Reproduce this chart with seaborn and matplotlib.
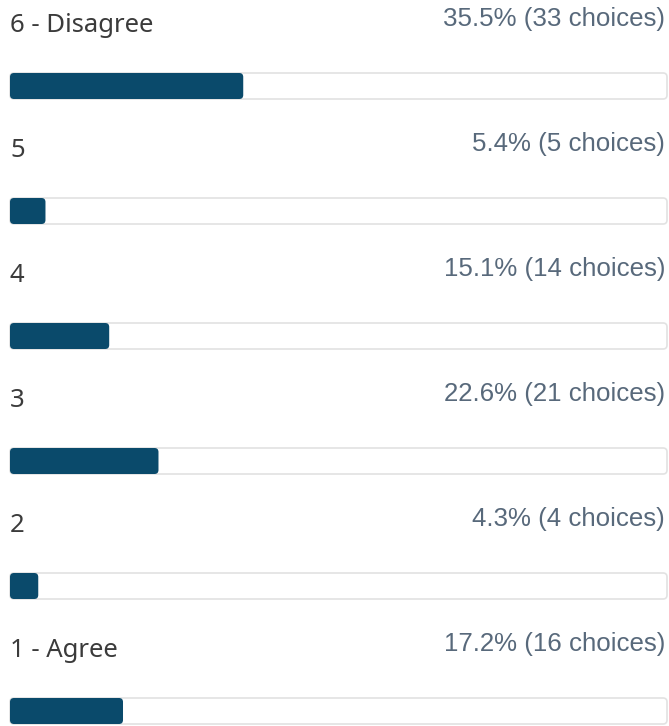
import matplotlib
matplotlib.use("Agg")
import matplotlib.pyplot as plt
import seaborn as sns
import pandas as pd
from matplotlib.patches import FancyBboxPatch

categories = ["6 - Disagree", "5", "4", "3", "2", "1 - Agree"]
percents = [35.5, 5.4, 15.1, 22.6, 4.3, 17.2]
counts = [33, 5, 14, 21, 4, 16]

df = pd.DataFrame({"cat": categories, "pct": percents, "full": [100] * len(categories)})

sns.set_style("white")
fig = plt.figure(figsize=(6.69, 7.26), dpi=100)
ax = fig.add_axes([0, 0, 1, 1])

bar_h = 26 / 125
sns.barplot(data=df, y="cat", x="full", orient="h", color="white", width=bar_h, ax=ax)
sns.barplot(data=df, y="cat", x="pct", orient="h", color="#0a4a6b", width=bar_h, ax=ax)

xpx = 657 / 100.0  # pixels per x unit
ypx = 125.0        # pixels per y unit
r = 4.0
n = len(categories)
patches = list(ax.patches)
for i, p in enumerate(patches):
    x0, y0, w, h = p.get_x(), p.get_y(), p.get_width(), p.get_height()
    is_track = i < n
    fb = FancyBboxPatch((x0, y0), w, h,
                        boxstyle=f"round,pad=0,rounding_size={r / xpx}",
                        mutation_aspect=xpx / ypx,
                        facecolor="white" if is_track else "#0a4a6b",
                        edgecolor="#e2e2e2" if is_track else "none",
                        linewidth=1.2 if is_track else 0,
                        zorder=2 if is_track else 3)
    p.remove()
    ax.add_patch(fb)

for i, (c, pc, ct) in enumerate(zip(categories, percents, counts)):
    ax.text(0, i - 54 / ypx, c, ha="left", va="baseline", fontsize=18.5,
            color="#3b3b3b", family=["Noto Sans", "DejaVu Sans"])
    ax.text(99.7, i - 60 / ypx, f"{pc}% ({ct} choices)", ha="right", va="baseline",
            fontsize=18.6, color="#58697b", family=["Liberation Sans", "DejaVu Sans"])

ax.set_xlim(-10 / xpx, (669 - 10) / xpx)
ax.set_ylim(5 + 15 / ypx, -86 / ypx)
ax.set_axis_off()
fig.savefig("out.png", dpi=100)
